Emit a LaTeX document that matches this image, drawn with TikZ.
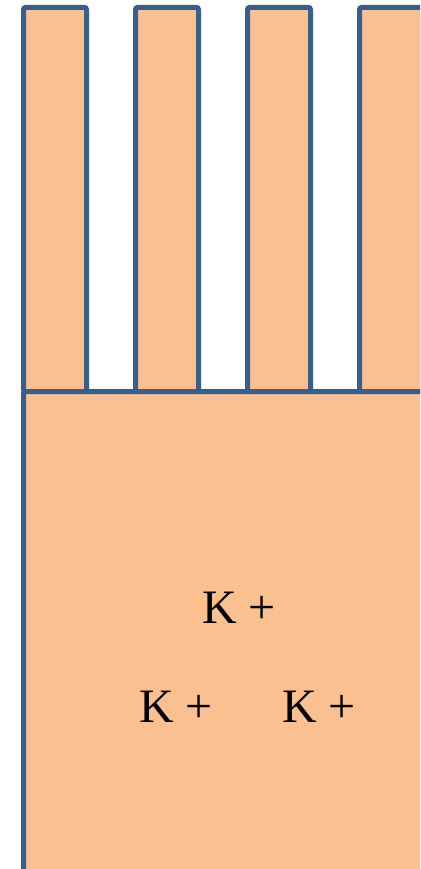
\documentclass[tikz,border=0pt]{standalone}
\usepackage{fontspec}
\setmainfont{Liberation Serif}
\definecolor{fillor}{HTML}{FAC090}
\definecolor{edgeblue}{HTML}{3A5E8C}
\begin{document}
\begin{tikzpicture}[x=1pt,y=-1pt,
  part/.style={fill=fillor,draw=edgeblue,line width=5pt,rounded corners=2pt},
  ion/.style={anchor=base west,inner sep=0pt,font=\fontsize{48}{48}\selectfont}]
\useasboundingbox (0,0) rectangle (420,869);
\begin{scope}
\clip (0,0) rectangle (420,869);
\foreach \i/\x in {1/23.5,2/135.5,3/247.5,4/359.5}{
  \draw[part] (\x,7.5) rectangle ++(63,384) coordinate (f\i);
}
\draw[part] (23.5,391.5) rectangle (500,950);
\end{scope}
\node[ion] (k1) at (202,623) {K +};
\node[ion] (k2) at (139,722) {K +};
\node[ion] (k3) at (282,722) {K +};
\end{tikzpicture}
\end{document}
